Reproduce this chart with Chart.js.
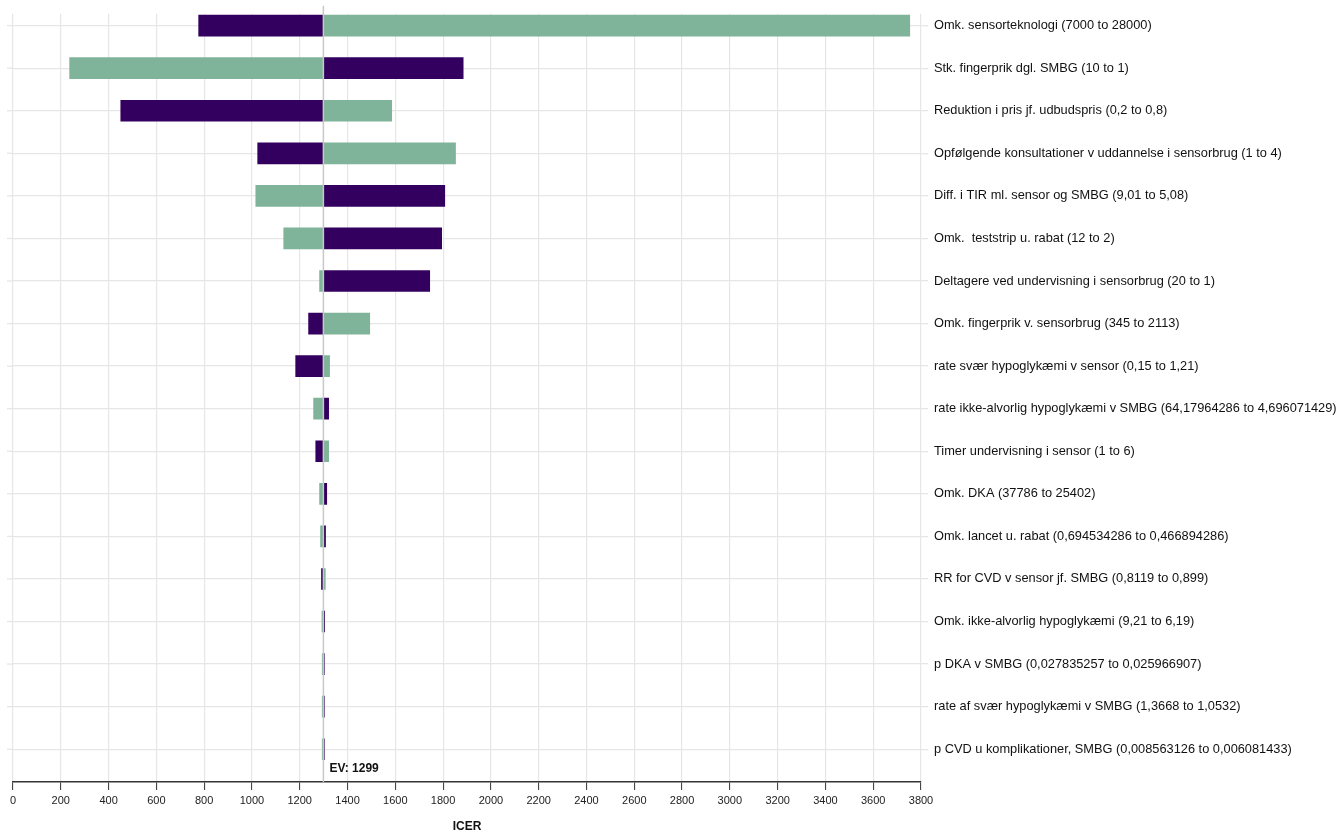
<!DOCTYPE html>
<html>
<head>
<meta charset="utf-8">
<script src="https://cdn.jsdelivr.net/npm/chart.js@4"></script>
<style>
html,body{margin:0;padding:0;background:#fff;}
#wrap{width:1343px;height:834px;}
</style>
</head>
<body>
<div id="wrap"><canvas id="c"></canvas></div>
<script>
const categories = [
  "Omk. sensorteknologi (7000 to 28000)",
  "Stk. fingerprik dgl. SMBG (10 to 1)",
  "Reduktion i pris jf. udbudspris (0,2 to 0,8)",
  "Opfølgende konsultationer v uddannelse i sensorbrug (1 to 4)",
  "Diff. i TIR ml. sensor og SMBG (9,01 to 5,08)",
  "Omk.  teststrip u. rabat (12 to 2)",
  "Deltagere ved undervisning i sensorbrug (20 to 1)",
  "Omk. fingerprik v. sensorbrug (345 to 2113)",
  "rate svær hypoglykæmi v sensor (0,15 to 1,21)",
  "rate ikke-alvorlig hypoglykæmi v SMBG (64,17964286 to 4,696071429)",
  "Timer undervisning i sensor (1 to 6)",
  "Omk. DKA (37786 to 25402)",
  "Omk. lancet u. rabat (0,694534286 to 0,466894286)",
  "RR for CVD v sensor jf. SMBG (0,8119 to 0,899)",
  "Omk. ikke-alvorlig hypoglykæmi (9,21 to 6,19)",
  "p DKA v SMBG (0,027835257 to 0,025966907)",
  "rate af svær hypoglykæmi v SMBG (1,3668 to 1,0532)",
  "p CVD u komplikationer, SMBG (0,008563126 to 0,006081433)"
];
const baseValue = 1299;
// ICER end values for each series
const purpleValues = [777, 1884, 451, 1024, 1807, 1794, 1744, 1237, 1183, 1321, 1267, 1313, 1308, 1291, 1304, 1303, 1303, 1303];
const greenValues  = [3753, 237, 1585, 1852, 1016, 1133, 1283, 1493, 1325, 1258, 1321, 1283, 1287, 1307, 1293, 1294, 1294, 1294];
const xTicks = {min: 0, max: 3800, step: 200};

const purple = '#34005f';
const green = '#80b49a';
const FONT = "'Liberation Sans', Arial, sans-serif";

function floating(vals){ return vals.map((v,i)=>({x:[baseValue, v], y:i})); }

const evPlugin = {
  id: 'evline',
  beforeDatasetsDraw(chart){
    const {ctx, chartArea, scales} = chart;
    ctx.save();
    ctx.strokeStyle = '#e6e6e6';
    ctx.lineWidth = 1.3;
    categories.forEach((c,i)=>{
      const y = scales.y.getPixelForValue(i);
      ctx.beginPath();
      ctx.moveTo(chartArea.left - 6, y);
      ctx.lineTo(chartArea.left, y);
      ctx.stroke();
    });
    ctx.restore();
  },
  afterDatasetsDraw(chart){
    const {ctx, chartArea, scales} = chart;
    const x = scales.x.getPixelForValue(baseValue);
    ctx.save();
    ctx.strokeStyle = '#c8c8c8';
    ctx.lineWidth = 1.5;
    ctx.beginPath();
    ctx.moveTo(x, chartArea.top - 8);
    ctx.lineTo(x, chartArea.bottom);
    ctx.stroke();
    ctx.fillStyle = '#111';
    ctx.font = "bold 12px " + FONT;
    ctx.textBaseline = 'middle';
    ctx.fillText('EV: ' + baseValue, x + 6, chartArea.bottom - 13);
    ctx.restore();
  }
};

new Chart(document.getElementById('c'), {
  type: 'bar',
  data: {
    datasets: [
      {label:'low', data: floating(purpleValues), backgroundColor: purple, grouped:false, barThickness: 21, borderSkipped:false},
      {label:'high', data: floating(greenValues), backgroundColor: green, grouped:false, barThickness: 21, borderSkipped:false}
    ]
  },
  options: {
    indexAxis: 'y',
    responsive: true,
    maintainAspectRatio: false,
    animation: false,
    layout: {padding: {left: 13, top: 10, right: 0, bottom: 0}},
    plugins: {legend: {display:false}, tooltip: {enabled:false}},
    scales: {
      x: {
        type: 'linear',
        min: xTicks.min, max: xTicks.max,
        ticks: {stepSize: xTicks.step, color:'#222', font:{family: FONT, size: 11}, padding: 4, maxRotation:0,
                callback: (v)=> String(v)},
        grid: {color:'#e6e6e6', lineWidth:1.2, tickColor:'#333', tickLength: 8, tickWidth: 1},
        border: {display:true, color:'#333', width:1.5},
        title: {display:true, text:'ICER', color:'#111', font:{family: FONT, size: 12, weight:'bold'}, padding:{top:12, bottom:0}},
        afterFit(s){ s.height = 52; }
      },
      y: {
        type: 'linear',
        position: 'right',
        reverse: true,
        offset: false,
        min: -0.28, max: 17.77,
        afterBuildTicks(s){ s.ticks = categories.map((c,i)=>({value:i})); },
        ticks: {
          stepSize: 1, includeBounds:false, autoSkip:false, padding: 6,
          color:'#111', font:{family: FONT, size: 12.8},
          callback: (v)=> categories[v] ?? ''
        },
        grid: {color:'#e6e6e6', lineWidth:1.3, tickLength: 7, offset:false},
        border: {display:false},
        afterFit(s){ s.width = 1343 - 921; }
      }
    }
  },
  plugins: [evPlugin]
});
</script>
</body>
</html>
